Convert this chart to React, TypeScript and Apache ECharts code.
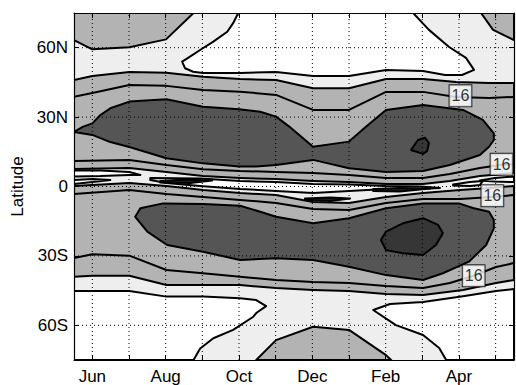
import React, { useEffect, useRef } from 'react';
import * as echarts from 'echarts';

// months on the x axis (Jun = 0 ... May = 11)
const MONTHS = ['Jun', 'Jul', 'Aug', 'Sep', 'Oct', 'Nov', 'Dec', 'Jan', 'Feb', 'Mar', 'Apr', 'May'];
const MONTH_TICKS = [0, 1, 2, 3, 4, 5, 6, 7, 8, 9, 10, 11];
const MONTH_LABELS = [0, 2, 4, 6, 8, 10];
const LAT_TICKS = [-60, -30, 0, 30, 60];

// contour boundaries, [month, latitude]
const CORNER_NW = [[-0.5, 75], [2.76, 75], [2.01, 63.6], [1.01, 60.2], [0, 59.3], [-0.5, 63.3]];
const CORNER_NE = [[10.6, 75], [11.5, 75], [11.5, 63.3], [10.93, 67.7]];
const WHITE_N = [[3.98, 75], [3.84, 70.6], [3.68, 66.9], [3.3, 62.6], [2.94, 59.0], [2.59, 55.4], [2.45, 54.0], [2.53, 51.1], [2.75, 49.6], [3.02, 49.1], [4.03, 49.1], [5.01, 49.5], [6.02, 47.8], [7.0, 47.8], [8.01, 50.4], [9.02, 49.9], [9.62, 48.2], [10.08, 48.2], [10.41, 50.4], [10.19, 55.6], [9.73, 60.3], [9.18, 67.7], [8.75, 75]];
const L2 = [[-0.5, 46.0], [0, 47.8], [1.01, 49.5], [2.02, 49.2], [3.02, 47.4], [4.03, 46.5], [5.01, 46.0], [6.02, 42.5], [7.0, 42.5], [8.01, 46.5], [9.02, 46.5], [9.92, 45.2], [10.82, 44.7], [11.5, 44.7]];
const L3 = [[-0.5, 38.8], [0, 40.4], [1.01, 43.9], [2.02, 43.5], [3.02, 41.7], [4.03, 41.0], [5.01, 39.6], [6.02, 33.1], [7.0, 33.1], [8.01, 40.9], [9.02, 40.9], [9.92, 38.7], [10.82, 38.3], [11.5, 38.7]];
const DARK_N = [[-0.5, 23.6], [-0.25, 25.9], [0, 27.3], [0.22, 30.9], [0.49, 33.8], [1.01, 36.7], [2.02, 37.7], [3.02, 34.5], [4.0, 33.4], [4.58, 32.3], [5.01, 30.2], [5.37, 25.9], [6.02, 17.2], [7.0, 19.4], [7.47, 25.9], [8.01, 33.1], [9.02, 35.2], [10.11, 33.1], [10.65, 28.8], [10.95, 23.0], [10.95, 20.1], [10.82, 17.2], [10.57, 13.6], [9.75, 9.3], [9.02, 6.7], [8.01, 6.3], [7.0, 7.9], [6.02, 11.5], [5.01, 9.3], [4.47, 8.6], [4.0, 8.6], [3.02, 10.0], [2.02, 12.2], [1.01, 17.1], [0.49, 19.2], [0, 22.3]];
const DARKEST_N = [[8.69, 15.8], [8.88, 20.1], [9.07, 21.1], [9.18, 18.8], [9.13, 15.3], [9.02, 14.1]];
const E0 = [[-0.5, 11.0], [1.01, 11.5], [2.02, 9.3], [3.02, 7.5], [4.03, 6.7], [5.01, 6.3], [6.02, 5.8], [7.0, 5.0], [8.01, 3.7], [9.02, 3.7], [9.75, 5.4], [10.57, 8.0], [11.12, 9.3], [11.5, 9.7]];
const EN = [[-0.5, 7.6], [1.01, 8.0], [2.02, 6.3], [3.02, 4.5], [4.03, 3.7], [5.01, 3.2], [6.02, 2.4], [7.0, 1.9], [8.01, 1.1], [9.02, 1.1], [9.75, 2.4], [10.57, 4.5], [11.5, 5.8]];
const ES = [[-0.5, 0.2], [1.01, 1.5], [2.02, 0.2], [3.02, -1.5], [4.03, -2.8], [5.01, -3.7], [6.02, -6.7], [7.0, -7.1], [8.01, -4.5], [9.02, -2.8], [10.03, -1.5], [10.84, -0.6], [11.5, 0.2]];
const ES0 = [[-0.5, -3.2], [1.01, -1.5], [2.02, -3.2], [3.02, -4.5], [4.03, -5.8], [5.01, -7.1], [6.02, -9.7], [7.0, -10.2], [8.01, -7.1], [9.02, -5.4], [10.03, -5.4], [10.9, -4.5], [11.5, -3.7]];
const W1 = [[-0.5, 6.9], [0.22, 6.9], [1.01, 6.3], [1.31, 5.0], [1.01, 5.0], [0.22, 4.5], [-0.5, 4.3]];
const W2 = [[-0.5, 2.8], [0, 3.2], [0.49, 2.8], [0, 1.9], [-0.5, 1.1]];
const W3 = [[1.58, 3.7], [2.94, 3.5], [4.03, 2.4], [5.01, 1.9], [6.02, 1.1], [7.0, 0.9], [8.01, 0.2], [8.94, 0], [9.48, -0.6], [8.94, -1.1], [8.01, -1.1], [7.0, -1.9], [6.02, -2.8], [5.01, -1.9], [4.03, -1.1], [2.94, 0.2], [2.02, 1.5], [1.58, 2.8]];
const WR1 = [[11.5, 4.3], [10.98, 3.7], [10.57, 2.6], [10.98, 2.2], [11.5, 1.9]];
const WR2 = [[9.84, 0.9], [10.3, 1.9], [10.65, 2.4], [10.57, 0.6], [10.3, 0.2], [9.84, 0.4]];
const B1 = [[1.85, 2.4], [2.53, 3.0], [3.27, 2.6], [2.67, 1.5], [1.85, 1.7]];
const B2 = [[5.8, -5.2], [6.49, -4.8], [7.03, -5.2], [6.49, -6.3], [5.8, -5.8]];
const B3 = [[7.66, -1.1], [8.39, -0.6], [9.21, -0.9], [8.39, -2.2], [7.66, -1.9]];
const DARK_S = [[1.17, -13.1], [1.31, -9.4], [1.93, -7.3], [3.02, -7.6], [4.03, -8.3], [4.58, -10.9], [5.01, -13.1], [6.02, -15.9], [7.0, -13.7], [8.01, -9.4], [9.02, -7.3], [10.0, -7.3], [10.38, -9.3], [10.82, -10.9], [10.95, -14.5], [10.95, -18.1], [10.74, -25.3], [10.27, -32.5], [9.56, -37.5], [9.02, -40.4], [8.01, -38.3], [7.0, -34.7], [6.02, -31.8], [5.01, -31.0], [4.03, -31.8], [3.02, -28.2], [2.04, -25.3], [1.5, -19.5]];
const DARKEST_S = [[7.87, -23.1], [8.01, -19.5], [8.47, -15.9], [9.02, -13.7], [9.43, -16.6], [9.56, -20.2], [9.37, -25.3], [9.02, -29.6], [8.47, -28.9], [8.01, -27.5]];
const S1 = [[-0.5, -30.9], [0, -29.3], [1.01, -29.9], [2.02, -36.1], [3.02, -37.5], [4.03, -39.0], [5.01, -40.4], [6.02, -41.3], [7.0, -41.7], [8.01, -43.0], [9.02, -43.9], [9.75, -41.7], [10.38, -38.7], [11.01, -34.8], [11.5, -33.1]];
const S2 = [[-0.5, -39.0], [0, -38.6], [1.01, -38.6], [2.02, -42.6], [3.02, -42.6], [4.03, -42.6], [5.01, -43.9], [6.02, -44.7], [7.0, -45.2], [8.01, -46.5], [9.02, -46.9], [10.11, -44.7], [11.01, -41.7], [11.5, -40.4]];
const WHITE_SW = [[-0.5, -45.2], [1.01, -45.2], [2.02, -47.6], [3.02, -47.6], [4.03, -48.3], [4.47, -49.1], [4.74, -51.7], [4.47, -54.7], [4.39, -56.3], [3.84, -62.0], [3.3, -65.6], [2.94, -70.0], [2.76, -75], [-0.5, -75]];
const WHITE_SE = [[7.66, -53.4], [8.12, -50.8], [9.02, -49.9], [10.11, -47.4], [11.01, -45.2], [11.5, -44.3], [11.5, -75], [9.65, -75], [9.46, -69.8], [9.02, -64.2], [8.28, -59.9]];
const DOME_S = [[4.47, -75], [5.01, -66.4], [6.02, -60.6], [7.0, -62.0], [8.01, -72.9], [8.15, -75]];

// inline contour labels
const LABEL_POS = [[10.04, 39.2], [11.16, 9.6], [10.91, -4.0], [10.4, -38.6]];
const LABEL_TEXT = '16';

const WHITE = '#ffffff';
const LIGHT = '#eeeeee';
const MID = '#b3b3b3';
const DARK = '#555555';
const DARKEST = '#363636';

type Shape = { pts: number[][]; fill?: string; kind: 'poly' | 'line' | 'grid' };

const rev = (a: number[][]) => a.slice().reverse();

const SHAPES: Shape[] = [
  { pts: [...L2, ...rev(EN)], fill: MID, kind: 'poly' },
  { pts: [...ES, ...rev(S2)], fill: MID, kind: 'poly' },
  { pts: CORNER_NW, fill: MID, kind: 'poly' },
  { pts: CORNER_NE, fill: MID, kind: 'poly' },
  { pts: WHITE_N, fill: WHITE, kind: 'poly' },
  { pts: WHITE_SW, fill: WHITE, kind: 'poly' },
  { pts: WHITE_SE, fill: WHITE, kind: 'poly' },
  { pts: DOME_S, fill: MID, kind: 'poly' },
  { pts: DARK_N, fill: DARK, kind: 'poly' },
  { pts: DARK_S, fill: DARK, kind: 'poly' },
  { pts: DARKEST_N, fill: DARKEST, kind: 'poly' },
  { pts: DARKEST_S, fill: DARKEST, kind: 'poly' },
  { pts: W1, fill: WHITE, kind: 'poly' },
  { pts: W2, fill: WHITE, kind: 'poly' },
  { pts: W3, fill: WHITE, kind: 'poly' },
  { pts: WR1, fill: WHITE, kind: 'poly' },
  { pts: WR2, fill: WHITE, kind: 'poly' },
  { pts: B1, fill: '#222', kind: 'poly' },
  { pts: B2, fill: '#222', kind: 'poly' },
  { pts: B3, fill: '#222', kind: 'poly' },
  { pts: L3, kind: 'line' },
  { pts: E0, kind: 'line' },
  { pts: ES0, kind: 'line' },
  { pts: S1, kind: 'line' },
  ...MONTH_TICKS.map((m) => ({ pts: [[m, -75], [m, 75]], kind: 'grid' as const })),
  ...LAT_TICKS.map((l) => ({ pts: [[-0.5, l], [11.5, l]], kind: 'grid' as const })),
];

const FONT = 'Liberation Sans, Arial, Helvetica, sans-serif';

export default function App() {
  const ref = useRef<HTMLDivElement>(null);
  useEffect(() => {
    if (!ref.current) return;
    const chart = echarts.init(ref.current, null, { renderer: 'svg' });
    const axisLine = { show: true, onZero: false, lineStyle: { color: '#000', width: 1.2 } };
    const tick = (vals: number[]) => ({ show: true, inside: true, length: 5, customValues: vals, lineStyle: { color: '#000', width: 1 } });
    chart.setOption({
      animation: false,
      backgroundColor: '#fff',
      grid: { left: 74, right: 2, top: 13, bottom: 25, show: true, backgroundColor: LIGHT, borderWidth: 0 },
      xAxis: [
        {
          type: 'value', min: -0.5, max: 11.5, position: 'bottom', z: 10,
          axisLine, axisTick: tick(MONTH_TICKS),
          axisLabel: { customValues: MONTH_LABELS, formatter: (v: number) => MONTHS[Math.round(v)], color: '#000', fontSize: 17, fontFamily: FONT, margin: 8 },
          splitLine: { show: false },
        },
        {
          type: 'value', min: -0.5, max: 11.5, position: 'top', z: 10,
          axisLine, axisTick: tick(MONTH_TICKS), axisLabel: { show: false }, splitLine: { show: false },
        },
      ],
      yAxis: [
        {
          type: 'value', min: -75, max: 75, position: 'left', z: 10,
          name: 'Latitude', nameLocation: 'middle', nameGap: 47,
          nameTextStyle: { color: '#000', fontSize: 17, fontFamily: FONT },
          axisLine, axisTick: tick(LAT_TICKS),
          axisLabel: { customValues: LAT_TICKS, formatter: (v: number) => (v > 0 ? `${v}N` : v < 0 ? `${-v}S` : '0'), color: '#000', fontSize: 17, fontFamily: FONT, margin: 6 },
          splitLine: { show: false },
        },
        {
          type: 'value', min: -75, max: 75, position: 'right', z: 10,
          axisLine, axisTick: tick(LAT_TICKS), axisLabel: { show: false }, splitLine: { show: false },
        },
      ],
      series: [
        {
          type: 'custom',
          xAxisIndex: 0, yAxisIndex: 0,
          clip: true,
          z: 2,
          data: SHAPES.map(() => [0, 0]),
          renderItem: (params: any, api: any) => {
            const s = SHAPES[params.dataIndex];
            const points = s.pts.map((p) => api.coord(p));
            if (s.kind === 'grid') {
              return { type: 'polyline', z2: params.dataIndex, shape: { points }, style: { fill: null, stroke: '#000', lineWidth: 1, lineDash: [1, 3] } };
            }
            if (s.kind === 'line') {
              return { type: 'polyline', z2: params.dataIndex, shape: { points }, style: { fill: null, stroke: '#000', lineWidth: 2, lineJoin: 'round' } };
            }
            return { type: 'polygon', z2: params.dataIndex, shape: { points }, style: { fill: s.fill, stroke: '#000', lineWidth: 2, lineJoin: 'round' } };
          },
        },
        {
          type: 'scatter',
          xAxisIndex: 0, yAxisIndex: 0,
          z: 5,
          symbolSize: 0,
          data: LABEL_POS,
          label: {
            show: true, position: 'inside', formatter: () => LABEL_TEXT,
            color: '#000', fontSize: 16, fontFamily: FONT,
            backgroundColor: '#ffffff', borderColor: '#000', borderWidth: 1, padding: [3, 2, 2, 2],
          },
        },
      ],
    });
    return () => chart.dispose();
  }, []);
  return <div ref={ref} style={{ width: 516, height: 385, position: 'absolute', left: 0, top: 0 }} />;
}
